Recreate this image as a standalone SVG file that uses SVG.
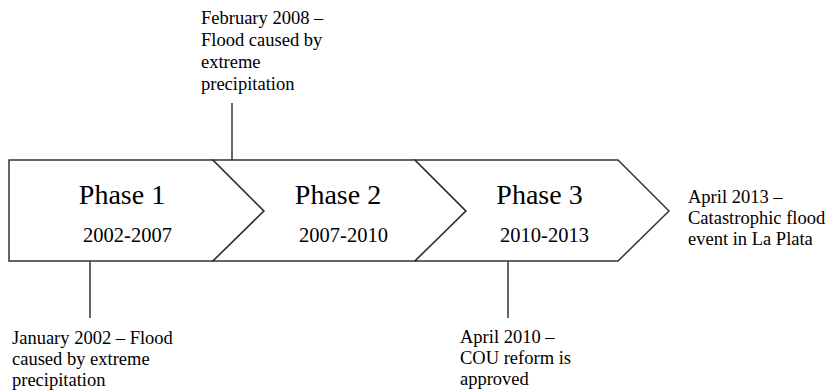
<svg xmlns="http://www.w3.org/2000/svg" width="828" height="390" viewBox="0 0 828 390">
<style>
.sh{fill:#fff;stroke:#333;stroke-width:1.5;stroke-linejoin:miter}
.ln{stroke:#000;stroke-width:1.2;fill:none}
.ph{font-family:"Liberation Serif",serif;font-size:28px;fill:#000;text-anchor:middle}
.yr{font-family:"Liberation Serif",serif;font-size:20.5px;fill:#000;text-anchor:middle}
.lb{font-family:"Liberation Serif",serif;font-size:18.5px;fill:#000}
</style>
<rect width="828" height="390" fill="#fff"/>
<g id="connectors">
<line class="ln" x1="90" y1="261" x2="90" y2="318"/>
<line class="ln" x1="232" y1="103" x2="232" y2="160"/>
<line class="ln" x1="508" y1="261" x2="508" y2="318"/>
</g>
<g id="phase1">
<polygon class="sh" points="9,160 213,160 264,211 213,261 9,261"/>
<text class="ph" x="122" y="204">Phase 1</text>
<text class="yr" x="127.5" y="242">2002-2007</text>
</g>
<g id="phase2">
<polygon class="sh" points="213,160 415,160 466,211 415,261 213,261 264,211"/>
<text class="ph" x="338" y="204">Phase 2</text>
<text class="yr" x="343.5" y="242">2007-2010</text>
</g>
<g id="phase3">
<polygon class="sh" points="415,160 618,160 669,211 618,261 415,261 466,211"/>
<text class="ph" x="539.5" y="204">Phase 3</text>
<text class="yr" x="544.5" y="242">2010-2013</text>
</g>
<g id="event-feb2008">
<text class="lb" x="201"><tspan x="201" y="24">February 2008 –</tspan><tspan x="201" y="46">Flood caused by</tspan><tspan x="201" y="68">extreme</tspan><tspan x="201" y="90">precipitation</tspan></text>
</g>
<g id="event-jan2002">
<text class="lb" x="12"><tspan x="12" y="344">January 2002 – Flood</tspan><tspan x="12" y="365">caused by extreme</tspan><tspan x="12" y="386">precipitation</tspan></text>
</g>
<g id="event-apr2010">
<text class="lb" x="460"><tspan x="460" y="343">April 2010 –</tspan><tspan x="460" y="364">COU reform is</tspan><tspan x="460" y="385">approved</tspan></text>
</g>
<g id="event-apr2013">
<text class="lb" x="688"><tspan x="688" y="203">April 2013 –</tspan><tspan x="688" y="224">Catastrophic flood</tspan><tspan x="688" y="245">event in La Plata</tspan></text>
</g>
</svg>
